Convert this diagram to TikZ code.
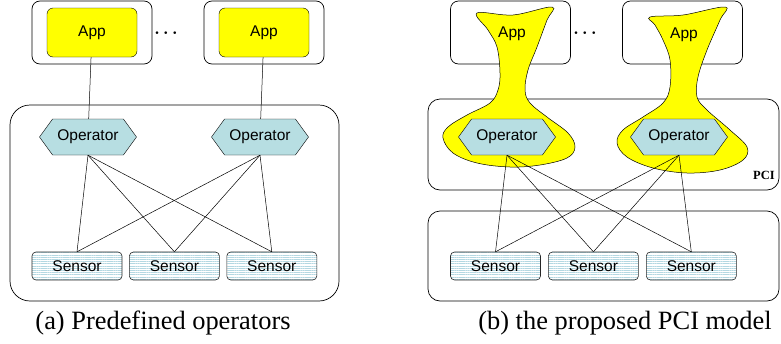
\documentclass[tikz,border=0pt]{standalone}
\usepackage{fontspec}
\setmainfont{Liberation Serif}
\newfontfamily\arial{Liberation Sans}
\usetikzlibrary{positioning,shapes.symbols,patterns.meta}
\definecolor{appyellow}{RGB}{255,255,0}
\definecolor{opblue}{RGB}{183,222,226}
\definecolor{senstripe}{RGB}{180,216,226}
\tikzset{
  lbl/.style={font=\arial\fontsize{15.5}{18}\selectfont},
  frame/.style={draw,fill=white,rounded corners=8pt,minimum width=120pt,minimum height=63pt,line width=0.7pt},
  app/.style={lbl,draw,fill=appyellow,rounded corners=6pt,minimum width=90pt,minimum height=49pt},
  op/.style={lbl,signal,signal to=east and west,signal pointer angle=108,draw,fill=opblue,
    minimum width=97pt,minimum height=36pt,inner sep=0pt},
  sensor/.style={lbl,fill=white,rounded corners=4pt,minimum width=90pt,minimum height=28pt,inner sep=0pt,
    postaction={pattern={Lines[angle=0,distance=2.2pt,line width=0.9pt]},pattern color=senstripe},
    postaction={draw=black!85,line width=0.6pt}},
  panel/.style={draw,line width=0.7pt,rounded corners=#1},
  panel/.default=12pt,
  blob/.style={draw,fill=appyellow,line width=0.5pt},
  wire/.style={line width=0.5pt},
  dots/.style={font=\fontsize{18}{20}\selectfont\boldmath},
  caption/.style={font=\fontsize{26.4}{30}\selectfont}
}
\begin{document}
\begin{tikzpicture}[x=1pt,y=-1pt]
  \useasboundingbox (0,0) rectangle (781,343);

  % (a) predefined operators
  \node[panel=20pt,minimum width=329pt,minimum height=196pt] (boxA) at (174.5,203) {};
  \node[frame] (winA1) at (92,32.5) {};
  \node[app] (appA1) at (winA1) {App};
  \node[frame] (winA2) at (264,32.5) {};
  \node[app] (appA2) at (winA2) {App};
  \node[dots] (dotsA) at (166,33) {$\cdots$};
  \node[op] (opA1) at (88,137) {Operator};
  \node[op] (opA2) at (260,137) {Operator};
  \node[sensor] (senA1) at (77,266) {Sensor};
  \node[sensor,right=7pt of senA1] (senA2) {Sensor};
  \node[sensor,right=7pt of senA2] (senA3) {Sensor};
  \draw[wire] (appA1) -- (opA1);
  \draw[wire] (appA2) -- (opA2);
  \node[caption] (capA) at (163,323) {(a) Predefined operators};

  % (b) the PCI model
  \node[panel,minimum width=351pt,minimum height=91pt] (pci) at (603.5,144.5) {};
  \node[panel,minimum width=351pt,minimum height=90pt] (boxB) at (603.5,256) {};
  \node[frame] (winB1) at (510.5,32.5) {};
  \node[frame] (winB2) at (682.5,32.5) {};
  \node[dots] (dotsB) at (585,33) {$\cdots$};
  \draw[blob] plot[smooth cycle,tension=0.6] coordinates {
    (477,13) (513,15) (552,7) (547,20) (537,47) (528,70) (525,90) (530,103)
    (547,117) (568,133) (575,147) (567,158) (540,165) (510,167) (477,163)
    (453,153) (443,138) (448,127) (467,115) (490,103) (498,90) (500,73)
    (497,47) (488,30)};
  \draw[blob] plot[smooth cycle,tension=0.6] coordinates {
    (650,17) (683,15) (725,7) (720,20) (707,50) (698,77) (697,97) (707,110)
    (730,130) (747,147) (743,160) (720,170) (687,173) (653,168) (627,157)
    (617,143) (623,130) (643,117) (663,103) (670,87) (670,60) (663,40) (655,25)};
  \node[lbl] (appB1) at (512,34) {App};
  \node[lbl] (appB2) at (684,35) {App};
  \node[op] (opB1) at (507,137) {Operator};
  \node[op] (opB2) at (679,137) {Operator};
  \node[font=\bfseries\fontsize{12.5}{14}\selectfont] (pcilab) at (764,175) {PCI};
  \node[sensor] (senB1) at (495.5,266) {Sensor};
  \node[sensor,right=7.5pt of senB1] (senB2) {Sensor};
  \node[sensor,right=7.5pt of senB2] (senB3) {Sensor};
  \node[caption] (capB) at (625,323) {(b) the proposed PCI model};

  \foreach \p in {A,B}
    \foreach \o in {1,2}
      \foreach \s in {1,2,3}
        \draw[wire] (op\p\o.south) -- (sen\p\s.north);
\end{tikzpicture}
\end{document}
